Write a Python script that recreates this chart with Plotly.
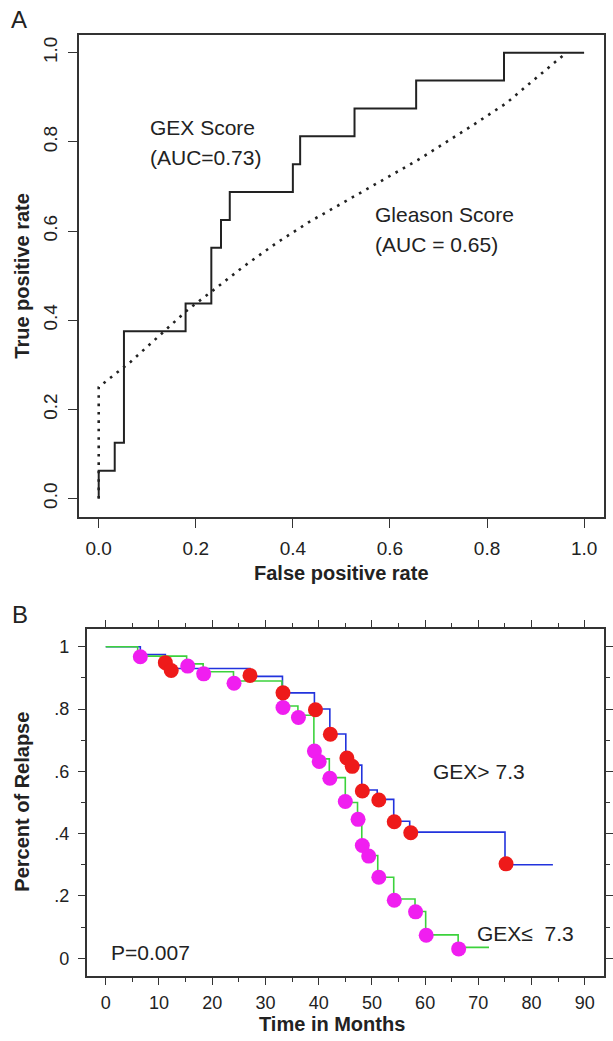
import plotly.graph_objects as go

# ---- Panel A: ROC curves ----
gex_fpr = [0.0, 0.0, 0.033, 0.052, 0.179, 0.232, 0.252, 0.270, 0.400, 0.415, 0.527, 0.654, 0.835, 1.0]
gex_tpr = [0.0, 0.0625, 0.125, 0.375, 0.4375, 0.5625, 0.625, 0.6875, 0.75, 0.8125, 0.875, 0.9375, 1.0, 1.0]

gleason_fpr = [0.0, 0.0, 0.066, 0.183, 0.237, 0.298, 0.366, 0.433, 0.525, 0.657, 0.766, 0.840, 0.880, 0.958]
gleason_tpr = [0.0, 0.25, 0.307, 0.423, 0.468, 0.520, 0.573, 0.620, 0.677, 0.759, 0.834, 0.887, 0.924, 0.995]

roc_ticks = [0.0, 0.2, 0.4, 0.6, 0.8, 1.0]
roc_ticktext = ["0.0", "0.2", "0.4", "0.6", "0.8", "1.0"]

# ---- Panel B: Kaplan-Meier curves ----
hi_time = [0, 6.5, 11.2, 12.3, 27.1, 33.2, 39.2, 42.1, 45.1, 46.2, 48.1, 51.0, 54.1, 57.1, 75.0, 84.0]
hi_surv = [1.0, 0.975, 0.95, 0.93, 0.905, 0.852, 0.80, 0.72, 0.645, 0.62, 0.54, 0.51, 0.44, 0.405, 0.30, 0.30]
hi_dot_time = [11.2, 12.3, 27.1, 33.3, 39.4, 42.2, 45.3, 46.3, 48.2, 51.3, 54.2, 57.3, 75.2]
hi_dot_surv = [0.949, 0.924, 0.908, 0.852, 0.798, 0.719, 0.643, 0.616, 0.537, 0.508, 0.438, 0.403, 0.303]

lo_time = [0, 6.0, 15.2, 18.3, 24.0, 33.1, 36.1, 39.1, 40.1, 42.0, 45.0, 47.3, 48.1, 49.3, 51.1, 54.1, 58.1, 60.1, 66.2, 72.0]
lo_surv = [1.0, 0.97, 0.945, 0.92, 0.89, 0.81, 0.78, 0.665, 0.64, 0.58, 0.50, 0.445, 0.36, 0.33, 0.26, 0.19, 0.15, 0.075, 0.035, 0.035]
lo_dot_time = [6.5, 15.4, 18.4, 24.1, 33.3, 36.2, 39.2, 40.1, 42.1, 45.0, 47.4, 48.2, 49.4, 51.3, 54.2, 58.2, 60.2, 66.3]
lo_dot_surv = [0.968, 0.938, 0.913, 0.883, 0.805, 0.773, 0.665, 0.632, 0.578, 0.503, 0.446, 0.362, 0.328, 0.26, 0.186, 0.149, 0.074, 0.030]

km_xticks = [0, 10, 20, 30, 40, 50, 60, 70, 80, 90]
km_yticks = [0, 0.2, 0.4, 0.6, 0.8, 1.0]
km_yticktext = ["0", ".2", ".4", ".6", ".8", "1"]

W, H = 613, 1041
FONT = "Liberation Sans, Arial, Helvetica, sans-serif"
INK = "#222222"
AXC = "#333333"


def px_x(v):
    return v / W


def px_y(v):
    return 1 - v / H


fig = go.Figure()

fig.add_trace(go.Scatter(
    x=gleason_fpr, y=gleason_tpr, mode="lines", xaxis="x", yaxis="y",
    line=dict(color=INK, width=2.6, dash="2.6px,5.8px"), showlegend=False
))
fig.add_trace(go.Scatter(
    x=gex_fpr, y=gex_tpr, mode="lines", xaxis="x", yaxis="y",
    line=dict(color=INK, width=2, shape="hv"), showlegend=False
))

fig.add_trace(go.Scatter(
    x=hi_time, y=hi_surv, mode="lines", xaxis="x2", yaxis="y2",
    line=dict(color="#2233DD", width=1.6, shape="hv"), showlegend=False
))
fig.add_trace(go.Scatter(
    x=lo_time, y=lo_surv, mode="lines", xaxis="x2", yaxis="y2",
    line=dict(color="#3CD23C", width=1.6, shape="hv"), showlegend=False
))
fig.add_trace(go.Scatter(
    x=lo_dot_time, y=lo_dot_surv, mode="markers", xaxis="x2", yaxis="y2",
    marker=dict(color="#F01EF0", size=15, line=dict(width=0)), showlegend=False
))
fig.add_trace(go.Scatter(
    x=hi_dot_time, y=hi_dot_surv, mode="markers", xaxis="x2", yaxis="y2",
    marker=dict(color="#EE1A1A", size=15, line=dict(width=0)), showlegend=False
))

axis_common = dict(
    showgrid=False, zeroline=False, showline=True, linecolor=AXC, linewidth=1.6,
    ticks="outside", tickcolor=AXC, tickwidth=1.4,
)
minor_x = dict(dtick=5, tick0=0, ticklen=4, ticks="outside", tickcolor=AXC, tickwidth=1.4)
minor_y = dict(dtick=0.1, tick0=0, ticklen=4, ticks="outside", tickcolor=AXC, tickwidth=1.4)

fig.update_layout(
    width=W, height=H, autosize=False,
    margin=dict(l=0, r=0, t=0, b=0),
    paper_bgcolor="white", plot_bgcolor="white",
    font=dict(family=FONT, color=INK),
    xaxis=dict(
        domain=[px_x(80), px_x(611.5)], anchor="y", range=[-0.0407, 1.04],
        tickvals=roc_ticks, ticktext=roc_ticktext, ticklen=9, mirror=True,
        tickfont=dict(size=19), ticklabelstandoff=4, **axis_common
    ),
    yaxis=dict(
        domain=[px_y(517.3), px_y(35.3)], anchor="x", range=[-0.042, 1.039],
        tickvals=roc_ticks, ticktext=roc_ticktext, ticklen=9, tickangle=-90, mirror=True,
        tickfont=dict(size=19), ticklabelstandoff=4, **axis_common
    ),
    xaxis2=dict(
        domain=[px_x(87.7), px_x(612)], anchor="y2", range=[-3.6, 93.6],
        tickvals=km_xticks, ticklen=7, tickfont=dict(size=18), ticklabelstandoff=3,
        mirror="ticks", minor=minor_x, **axis_common
    ),
    yaxis2=dict(
        domain=[px_y(976), px_y(628.7)], anchor="x2", range=[-0.057, 1.058],
        tickvals=km_yticks, ticktext=km_yticktext, ticklen=7,
        tickfont=dict(size=18), ticklabelstandoff=5,
        mirror="ticks", minor=minor_y, **axis_common
    ),
)

ann = []
# panel letters
ann.append(dict(text="A", x=px_x(9), y=px_y(19), xref="paper", yref="paper",
                xanchor="left", yanchor="middle", showarrow=False, font=dict(size=24)))
ann.append(dict(text="B", x=px_x(10), y=px_y(614), xref="paper", yref="paper",
                xanchor="left", yanchor="middle", showarrow=False, font=dict(size=24)))

# axis titles
ann.append(dict(text="<b>False positive rate</b>", x=px_x(346), y=px_y(573), xref="paper", yref="paper",
                xanchor="center", yanchor="middle", showarrow=False, font=dict(size=20)))
ann.append(dict(text="<b>True positive rate</b>", x=px_x(22), y=px_y(276), xref="paper", yref="paper",
                xanchor="center", yanchor="middle", textangle=-90, showarrow=False, font=dict(size=20)))
ann.append(dict(text="<b>Time in Months</b>", x=px_x(336), y=px_y(1024), xref="paper", yref="paper",
                xanchor="center", yanchor="middle", showarrow=False, font=dict(size=20)))
ann.append(dict(text="<b>Percent of Relapse</b>", x=px_x(22), y=px_y(802), xref="paper", yref="paper",
                xanchor="center", yanchor="middle", textangle=-90, showarrow=False, font=dict(size=20)))

# in-plot labels, panel A
for txt, xv, yv in [("GEX Score", 0.102, 0.833), ("(AUC=0.73)", 0.102, 0.764),
                    ("Gleason Score", 0.565, 0.638), ("(AUC = 0.65)", 0.565, 0.569)]:
    ann.append(dict(text=txt, x=xv, y=yv, xref="x", yref="y", xanchor="left", yanchor="middle",
                    showarrow=False, font=dict(size=21)))

# in-plot labels, panel B
for txt, xv, yv in [("GEX> 7.3", 61.1, 0.60), ("GEX\u2264  7.3", 69.3, 0.08), ("P=0.007", 0.6, 0.02)]:
    ann.append(dict(text=txt, x=xv, y=yv, xref="x2", yref="y2", xanchor="left", yanchor="middle",
                    showarrow=False, font=dict(size=21)))

fig.update_layout(annotations=ann)

# the page body has a default margin; drop it so the figure sits at the window origin
fig.write_html("out.html", config={"displayModeBar": False},
               post_script="document.body.style.margin='0';")
